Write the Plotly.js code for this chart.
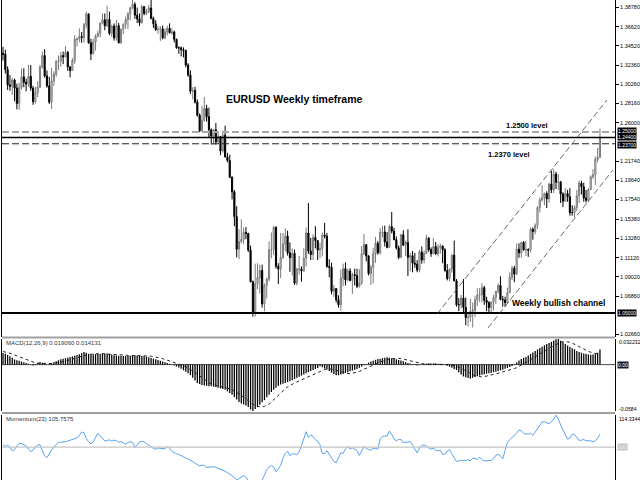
<!DOCTYPE html>
<html><head><meta charset="utf-8">
<script src="https://cdn.plot.ly/plotly-3.0.1.min.js"></script>
<style>html,body{margin:0;padding:0;background:#fff}#chart{width:640px;height:480px}</style>
</head><body><div id="chart"></div>
<script>
// EURUSD weekly bars (Feb 2013 - Jan 2018); open of each bar = previous close
const firstOpen = 1.3370;
const high = [
1.3440,1.3410,1.3225,1.3130,1.3100,1.3090,1.3035,1.3045,1.3200,1.3205,
1.3090,1.3245,1.3240,1.3010,1.3000,1.3060,1.3240,1.3390,1.3415,1.3180,
1.3110,1.3210,1.3170,1.3295,1.3345,1.3385,1.3390,1.3450,1.3395,1.3225,
1.3315,1.3570,1.3545,1.3645,1.3605,1.3705,1.3830,1.3810,1.3530,1.3530,
1.3580,1.3620,1.3710,1.3810,1.3810,1.3895,1.3830,1.3685,1.3700,1.3740,
1.3705,1.3645,1.3700,1.3775,1.3825,1.3880,1.3965,1.3935,1.3875,1.3810,
1.3905,1.3890,1.3860,1.3905,1.3995,1.3775,1.3735,1.3670,1.3670,1.3675,
1.3645,1.3675,1.3700,1.3650,1.3620,1.3530,1.3445,1.3445,1.3435,1.3410,
1.3260,1.3180,1.2995,1.3000,1.2860,1.2705,1.2790,1.2885,1.2800,1.2770,
1.2540,1.2530,1.2600,1.2505,1.2455,1.2515,1.2570,1.2270,1.2250,1.2010,
1.1860,1.1680,1.1425,1.1535,1.1445,1.1450,1.1385,1.1245,1.0860,1.1045,
1.1050,1.1035,1.1035,1.0825,1.0890,1.1290,1.1390,1.1465,1.1460,1.1050,
1.1385,1.1385,1.1435,1.1410,1.1280,1.1215,1.1200,1.1000,1.1130,1.1015,
1.1215,1.1445,1.1715,1.1330,1.1370,1.1460,1.1305,1.1275,1.1390,1.1495,
1.1385,1.1095,1.1055,1.0810,1.0775,1.0695,1.0980,1.1045,1.1060,1.0990,
1.0995,1.0945,1.0990,1.0990,1.0985,1.1240,1.1375,1.1260,1.1140,1.1030,
1.1220,1.1340,1.1295,1.1440,1.1465,1.1465,1.1395,1.1475,1.1615,1.1440,
1.1345,1.1245,1.1375,1.1415,1.1300,1.1425,1.1165,1.1185,1.1165,1.1085,
1.1200,1.1235,1.1190,1.1365,1.1340,1.1225,1.1330,1.1285,1.1260,1.1265,
1.1245,1.1215,1.1040,1.0990,1.1145,1.1300,1.0875,1.0665,1.0700,1.0875,
1.0670,1.0490,1.0655,1.0615,1.0685,1.0775,1.0775,1.0830,1.0800,1.0680,
1.0630,1.0630,1.0700,1.0745,1.0830,1.0905,1.0690,1.0680,1.0780,1.0950,
1.1020,1.1020,1.1265,1.1270,1.1285,1.1295,1.1295,1.1215,1.1445,1.1445,
1.1490,1.1680,1.1775,1.1910,1.1830,1.1845,1.1940,1.2070,1.2090,1.2060,
1.2035,1.1955,1.1835,1.1880,1.1860,1.1880,1.1690,1.1690,1.1860,1.1965,
1.1960,1.1940,1.1860,1.1880,1.2020,1.2090,1.2230,1.2325,1.2535];
const low = [
1.3290,1.3145,1.2965,1.2955,1.2910,1.2840,1.2750,1.2745,1.2970,1.2995,
1.2950,1.3000,1.2955,1.2800,1.2815,1.2885,1.2985,1.3200,1.3100,1.2990,
1.2810,1.2755,1.3010,1.3110,1.3185,1.3220,1.3250,1.3325,1.3175,1.3105,
1.3175,1.3255,1.3445,1.3490,1.3485,1.3490,1.3645,1.3475,1.3295,1.3355,
1.3400,1.3545,1.3545,1.3690,1.3625,1.3660,1.3570,1.3550,1.3510,1.3510,
1.3480,1.3475,1.3580,1.3640,1.3640,1.3735,1.3855,1.3750,1.3705,1.3670,
1.3700,1.3790,1.3790,1.3815,1.3745,1.3650,1.3615,1.3585,1.3505,1.3525,
1.3525,1.3565,1.3590,1.3575,1.3490,1.3420,1.3365,1.3335,1.3325,1.3215,
1.3110,1.2920,1.2860,1.2815,1.2670,1.2500,1.2500,1.2615,1.2615,1.2440,
1.2360,1.2360,1.2360,1.2375,1.2245,1.2270,1.2220,1.2165,1.1990,1.1755,
1.1460,1.1115,1.1095,1.1270,1.1260,1.1315,1.1175,1.0840,1.0460,1.0460,
1.0765,1.0715,1.0560,1.0520,1.0660,1.0850,1.1105,1.1140,1.0990,1.0820,
1.0885,1.1100,1.1185,1.1135,1.0955,1.0915,1.0810,1.0805,1.0925,1.0845,
1.0955,1.1015,1.1155,1.1085,1.1085,1.1215,1.1085,1.1105,1.1125,1.1325,
1.1000,1.0895,1.0705,1.0675,1.0615,1.0560,1.0525,1.0795,1.0805,1.0850,
1.0850,1.0710,1.0805,1.0775,1.0780,1.0810,1.1140,1.1070,1.0915,1.0810,
1.0825,1.1055,1.1145,1.1145,1.1335,1.1235,1.1215,1.1220,1.1380,1.1305,
1.1200,1.1095,1.1105,1.1240,1.1130,1.0910,1.0960,1.0950,1.1000,1.0950,
1.0950,1.1045,1.1050,1.1150,1.1175,1.1120,1.1150,1.1140,1.1125,1.1155,
1.1050,1.0955,1.0860,1.0850,1.0945,1.0850,1.0570,1.0520,1.0550,1.0505,
1.0365,1.0350,1.0400,1.0340,1.0455,1.0580,1.0620,1.0620,1.0590,1.0520,
1.0495,1.0495,1.0525,1.0600,1.0715,1.0640,1.0570,1.0570,1.0605,1.0720,
1.0865,1.0840,1.0920,1.1110,1.1110,1.1190,1.1130,1.1120,1.1170,1.1310,
1.1370,1.1430,1.1610,1.1730,1.1690,1.1660,1.1720,1.1825,1.1825,1.1870,
1.1860,1.1715,1.1670,1.1730,1.1730,1.1575,1.1575,1.1555,1.1625,1.1715,
1.1810,1.1730,1.1720,1.1725,1.1860,1.1980,1.1915,1.2165,1.2215];
const close = [
1.3360,1.3190,1.3020,1.3005,1.3075,1.2985,1.2815,1.2995,1.3110,1.3050,
1.3030,1.3115,1.2985,1.2835,1.2935,1.2995,1.3220,1.3345,1.3120,1.3010,
1.2830,1.3065,1.3140,1.3280,1.3285,1.3345,1.3330,1.3380,1.3220,1.3180,
1.3290,1.3525,1.3525,1.3555,1.3545,1.3685,1.3805,1.3485,1.3365,1.3495,
1.3560,1.3590,1.3705,1.3740,1.3675,1.3745,1.3590,1.3670,1.3540,1.3675,
1.3485,1.3635,1.3690,1.3740,1.3805,1.3875,1.3910,1.3790,1.3750,1.3705,
1.3885,1.3810,1.3830,1.3870,1.3755,1.3695,1.3630,1.3635,1.3640,1.3540,
1.3605,1.3645,1.3595,1.3605,1.3525,1.3430,1.3430,1.3410,1.3400,1.3240,
1.3130,1.2950,1.2960,1.2830,1.2685,1.2515,1.2630,1.2760,1.2670,1.2525,
1.2455,1.2525,1.2390,1.2450,1.2290,1.2465,1.2225,1.2185,1.2000,1.1840,
1.1565,1.1205,1.1290,1.1315,1.1390,1.1380,1.1195,1.0845,1.0495,1.0825,
1.0890,1.0970,1.0600,1.0805,1.0875,1.1200,1.1200,1.1445,1.1015,1.0985,
1.1110,1.1265,1.1350,1.1165,1.1110,1.1160,1.0830,1.0985,1.0985,1.0965,
1.1105,1.1385,1.1185,1.1145,1.1335,1.1300,1.1195,1.1210,1.1360,1.1350,
1.1015,1.1005,1.0740,1.0770,1.0645,1.0590,1.0885,1.0990,1.0865,1.0965,
1.0860,1.0925,1.0915,1.0795,1.0830,1.1155,1.1255,1.1130,1.0935,1.1005,
1.1155,1.1270,1.1165,1.1390,1.1395,1.1285,1.1225,1.1455,1.1405,1.1310,
1.1220,1.1115,1.1365,1.1250,1.1280,1.1115,1.1135,1.1050,1.1040,1.0975,
1.1175,1.1085,1.1160,1.1325,1.1200,1.1155,1.1235,1.1155,1.1225,1.1240,
1.1200,1.0970,1.0880,1.0985,1.1140,1.0855,1.0590,1.0590,1.0665,1.0560,
1.0450,1.0455,1.0520,1.0530,1.0645,1.0700,1.0700,1.0780,1.0640,1.0615,
1.0560,1.0620,1.0670,1.0740,1.0805,1.0650,1.0645,1.0615,1.0725,1.0895,
1.0995,1.0930,1.1205,1.1165,1.1280,1.1195,1.1200,1.1195,1.1425,1.1400,
1.1470,1.1665,1.1750,1.1775,1.1820,1.1760,1.1925,1.1860,1.2035,1.1945,
1.1950,1.1815,1.1735,1.1820,1.1785,1.1610,1.1610,1.1665,1.1795,1.1935,
1.1895,1.1770,1.1745,1.1865,1.2005,1.2030,1.2200,1.2220,1.2440];

// MACD(12,26,9) main values (histogram) and signal (dotted)
const macd = [
0.0147,0.0137,0.0122,0.0106,0.0086,0.0065,0.0056,0.0047,0.0038,0.0030,
0.0020,0.0010,0.0000,-0.0010,0.0005,0.0020,0.0034,0.0022,0.0011,0.0000,
0.0010,0.0019,0.0030,0.0043,0.0055,0.0066,0.0073,0.0080,0.0087,0.0095,
0.0103,0.0112,0.0121,0.0131,0.0145,0.0160,0.0150,0.0135,0.0127,0.0129,
0.0130,0.0132,0.0134,0.0137,0.0139,0.0140,0.0133,0.0126,0.0119,0.0115,
0.0112,0.0110,0.0107,0.0106,0.0109,0.0113,0.0115,0.0117,0.0114,0.0112,
0.0109,0.0106,0.0100,0.0092,0.0084,0.0076,0.0067,0.0058,0.0049,0.0040,
0.0030,0.0020,0.0010,0.0000,-0.0011,-0.0024,-0.0036,-0.0052,-0.0071,-0.0091,
-0.0110,-0.0132,-0.0166,-0.0200,-0.0232,-0.0245,-0.0256,-0.0263,-0.0267,-0.0271,
-0.0274,-0.0278,-0.0281,-0.0292,-0.0300,-0.0308,-0.0316,-0.0337,-0.0358,-0.0379,
-0.0410,-0.0440,-0.0470,-0.0490,-0.0502,-0.0515,-0.0535,-0.0565,-0.0584,-0.0560,
-0.0535,-0.0505,-0.0475,-0.0447,-0.0412,-0.0380,-0.0345,-0.0318,-0.0290,-0.0265,
-0.0250,-0.0240,-0.0230,-0.0220,-0.0210,-0.0196,-0.0181,-0.0167,-0.0152,-0.0138,
-0.0123,-0.0109,-0.0094,-0.0080,-0.0068,-0.0056,-0.0044,-0.0020,-0.0034,-0.0049,
-0.0063,-0.0080,-0.0100,-0.0119,-0.0134,-0.0134,-0.0125,-0.0117,-0.0106,-0.0095,
-0.0084,-0.0074,-0.0065,-0.0055,-0.0040,-0.0023,-0.0007,0.0009,0.0025,0.0039,
0.0049,0.0060,0.0069,0.0075,0.0081,0.0087,0.0092,0.0086,0.0080,0.0073,
0.0066,0.0059,0.0051,0.0041,0.0031,0.0021,0.0013,0.0006,-0.0002,-0.0010,
-0.0004,0.0003,0.0009,0.0013,0.0013,0.0013,0.0013,0.0013,0.0011,0.0008,
0.0004,0.0000,-0.0014,-0.0028,-0.0041,-0.0055,-0.0068,-0.0095,-0.0124,-0.0149,
-0.0160,-0.0170,-0.0176,-0.0165,-0.0155,-0.0147,-0.0138,-0.0129,-0.0120,-0.0114,
-0.0108,-0.0102,-0.0096,-0.0089,-0.0081,-0.0072,-0.0064,-0.0053,-0.0042,-0.0031,
-0.0017,-0.0004,0.0025,0.0052,0.0071,0.0085,0.0097,0.0116,0.0135,0.0153,
0.0172,0.0190,0.0209,0.0224,0.0242,0.0258,0.0272,0.0287,0.0302,0.0318,
0.0322,0.0300,0.0280,0.0260,0.0240,0.0221,0.0207,0.0192,0.0172,0.0160,
0.0150,0.0140,0.0132,0.0127,0.0125,0.0128,0.0138,0.0150,0.0191];
const signal = [
0.0165,0.0160,0.0152,0.0143,0.0132,0.0120,0.0108,0.0098,0.0089,0.0076,
0.0063,0.0051,0.0039,0.0028,0.0022,0.0018,0.0016,0.0015,0.0012,0.0010,
0.0010,0.0012,0.0017,0.0021,0.0025,0.0028,0.0034,0.0042,0.0051,0.0061,
0.0070,0.0079,0.0088,0.0096,0.0105,0.0115,0.0123,0.0128,0.0132,0.0134,
0.0136,0.0138,0.0138,0.0137,0.0135,0.0134,0.0133,0.0133,0.0132,0.0131,
0.0128,0.0126,0.0122,0.0119,0.0115,0.0113,0.0112,0.0112,0.0111,0.0111,
0.0111,0.0111,0.0111,0.0109,0.0105,0.0101,0.0096,0.0089,0.0082,0.0075,
0.0066,0.0057,0.0048,0.0039,0.0029,0.0019,0.0009,-0.0003,-0.0015,-0.0028,
-0.0043,-0.0059,-0.0077,-0.0098,-0.0121,-0.0144,-0.0167,-0.0188,-0.0208,-0.0226,
-0.0242,-0.0254,-0.0263,-0.0270,-0.0276,-0.0282,-0.0287,-0.0295,-0.0305,-0.0317,
-0.0331,-0.0349,-0.0369,-0.0390,-0.0411,-0.0433,-0.0455,-0.0478,-0.0501,-0.0518,
-0.0528,-0.0532,-0.0531,-0.0525,-0.0513,-0.0496,-0.0471,-0.0442,-0.0412,-0.0382,
-0.0354,-0.0327,-0.0303,-0.0282,-0.0263,-0.0247,-0.0231,-0.0218,-0.0205,-0.0193,
-0.0180,-0.0166,-0.0152,-0.0138,-0.0124,-0.0110,-0.0096,-0.0081,-0.0070,-0.0062,
-0.0056,-0.0055,-0.0057,-0.0063,-0.0071,-0.0081,-0.0093,-0.0102,-0.0109,-0.0112,
-0.0113,-0.0110,-0.0104,-0.0095,-0.0085,-0.0073,-0.0061,-0.0048,-0.0035,-0.0021,
-0.0008,0.0006,0.0020,0.0033,0.0044,0.0055,0.0064,0.0071,0.0075,0.0078,
0.0079,0.0078,0.0075,0.0071,0.0064,0.0056,0.0048,0.0040,0.0032,0.0023,
0.0016,0.0011,0.0007,0.0005,0.0005,0.0005,0.0005,0.0007,0.0009,0.0011,
0.0011,0.0010,0.0007,0.0002,-0.0004,-0.0011,-0.0020,-0.0032,-0.0047,-0.0064,
-0.0082,-0.0099,-0.0115,-0.0129,-0.0140,-0.0149,-0.0154,-0.0154,-0.0151,-0.0146,
-0.0139,-0.0131,-0.0123,-0.0116,-0.0109,-0.0101,-0.0094,-0.0087,-0.0079,-0.0070,
-0.0061,-0.0050,-0.0038,-0.0023,-0.0007,0.0010,0.0026,0.0044,0.0062,0.0081,
0.0101,0.0119,0.0136,0.0153,0.0171,0.0189,0.0206,0.0223,0.0240,0.0256,
0.0270,0.0281,0.0287,0.0289,0.0287,0.0281,0.0272,0.0260,0.0244,0.0226,
0.0209,0.0194,0.0179,0.0167,0.0156,0.0147,0.0141,0.0139,0.0141];
// Momentum(23)
const momentum = [
101.0,100.3,100.9,99.9,98.3,98.8,100.4,101.7,101.6,101.0,
100.6,99.1,98.0,98.6,99.7,101.0,101.0,98.3,96.1,95.2,
97.3,98.7,99.9,101.1,102.2,102.1,102.1,102.4,102.7,103.1,
103.4,103.8,104.1,105.3,106.7,106.5,103.8,102.4,101.5,102.3,
104.5,106.2,105.1,103.8,102.7,103.0,103.2,102.7,103.1,102.9,
102.1,102.5,102.0,101.3,102.0,102.4,102.1,99.9,100.8,102.3,
102.6,102.3,101.6,100.9,99.9,99.4,99.0,99.6,99.4,99.3,
99.2,100.2,99.4,98.0,97.4,97.0,96.7,96.2,95.5,94.9,
94.6,94.2,93.5,92.8,92.1,91.5,91.9,91.7,90.8,91.0,
91.3,91.2,90.9,90.5,90.1,89.7,89.1,88.5,87.9,87.2,
86.4,85.2,85.8,86.7,87.2,86.5,85.0,82.8,81.2,80.2,
81.5,82.9,85.1,87.5,89.8,91.0,91.7,91.0,88.9,90.2,
91.8,95.0,97.1,98.2,96.1,96.9,97.0,96.5,98.0,100.6,
104.2,106.9,104.3,105.5,104.8,103.3,102.7,101.1,97.1,97.0,
98.4,96.6,94.8,93.5,92.9,95.2,97.4,97.1,99.2,100.3,
99.1,99.7,99.2,98.4,96.2,98.4,100.2,99.4,98.7,98.7,
99.4,99.3,99.1,103.6,104.8,105.0,104.9,107.2,105.7,103.6,
102.8,103.4,103.4,101.9,102.0,102.3,102.5,100.8,99.0,97.4,
99.6,100.7,101.0,100.5,99.6,99.1,99.4,98.6,98.3,98.6,
96.6,96.8,98.2,98.7,96.9,95.3,93.5,93.8,94.1,93.8,
94.2,94.3,93.8,95.0,94.9,94.4,95.5,94.3,93.8,94.0,
93.9,94.0,94.8,96.3,96.7,95.9,94.8,98.5,102.1,103.3,
104.5,105.3,106.3,107.6,107.3,106.3,105.8,105.8,106.2,105.3,
106.7,108.3,110.1,111.3,111.4,110.9,110.4,111.4,112.6,114.33,
112.6,109.9,108.0,105.4,103.5,104.1,105.8,105.7,104.2,103.0,
103.1,103.4,102.8,102.8,102.8,102.3,102.9,103.9,105.76];

const priceTicks = [1.3878,1.3662,1.3452,1.3236,1.3026,1.2816,1.2600,1.2174,1.1964,1.1754,1.1538,1.1328,1.1112,1.0902,1.0686,1.0266];
const levelResist = 1.2500, levelPrice = 1.2440, levelSupport = 1.2370, levelBase = 1.0500;
// channel endpoints [barIndex, price]
const channelUpper = [[187.6, 1.0489], [261.0, 1.2854]];
const channelLower = [[209.6, 1.0334], [263.6, 1.2080]];
const macdLabel = 'MACD(12,26,9) 0.019060 0.014131';
const momLabel = 'Momentum(23) 105.7575';
const macdMaxText = '0.032232', macdMinText = '-0.0584', momMaxText = '114.3344';

const open = close.map((c, i) => i === 0 ? firstOpen : close[i - 1]);
const idx = close.map((_, i) => i);

const W = 640, H = 480, ML = 2, MR = 25;
const PW = W - ML - MR;
const px = v => (v - ML) / PW;
const py = v => 1 - v / H;
const FONT = 'Liberation Sans, Arial, sans-serif';

const traces = [
  {type: 'candlestick', x: idx, open: open, high: high, low: low, close: close,
   xaxis: 'x', yaxis: 'y', whiskerwidth: 0, hoverinfo: 'skip',
   increasing: {line: {color: '#7a7a7a', width: 1}, fillcolor: '#e8e8e8'},
   decreasing: {line: {color: '#000', width: 1}, fillcolor: '#000'}},
  {type: 'bar', x: idx, y: macd, xaxis: 'x', yaxis: 'y2', width: 0.55,
   marker: {color: '#000', line: {width: 0}}, hoverinfo: 'skip'},
  {type: 'scatter', mode: 'lines', x: idx, y: signal, xaxis: 'x', yaxis: 'y2',
   line: {color: '#222', width: 1, dash: 'dot'}, hoverinfo: 'skip'},
  {type: 'scatter', mode: 'lines', x: idx, y: momentum, xaxis: 'x', yaxis: 'y3',
   line: {color: '#58a2f0', width: 1}, hoverinfo: 'skip'}
];

function hline(yref, y, color, width, dash) {
  return {type: 'line', xref: 'paper', x0: 0, x1: 1, yref: yref, y0: y, y1: y,
          line: {color: color, width: width, dash: dash || 'solid'}};
}
const shapes = [
  hline('y', levelResist, '#a8a8a8', 2, '7px,3px'),
  hline('y', levelPrice, '#000', 1.6),
  hline('y', levelSupport, '#222', 1, '7px,3px'),
  hline('y', levelBase, '#000', 2),
  {type: 'line', xref: 'x', yref: 'y', x0: channelUpper[0][0], y0: channelUpper[0][1], x1: channelUpper[1][0], y1: channelUpper[1][1],
   line: {color: '#444', width: 0.8, dash: '6px,3px'}},
  {type: 'line', xref: 'x', yref: 'y', x0: channelLower[0][0], y0: channelLower[0][1], x1: channelLower[1][0], y1: channelLower[1][1],
   line: {color: '#444', width: 0.8, dash: '6px,3px'}},
  hline('y2', 0, '#000', 0.7),
  hline('y3', 100, '#c4c4c4', 1.3),
  {type: 'line', xref: 'paper', yref: 'paper', x0: 0, x1: 1, y0: py(337.5), y1: py(337.5), line: {color: '#a0a0a0', width: 2}},
  {type: 'line', xref: 'paper', yref: 'paper', x0: 0, x1: 1, y0: py(413), y1: py(413), line: {color: '#a0a0a0', width: 2}}
];

function txt(text, xp, yp, size, opts) {
  return Object.assign({text: text, xref: 'paper', yref: 'paper', x: px(xp), y: py(yp), showarrow: false,
    xanchor: 'center', yanchor: 'middle', font: {family: FONT, size: size, color: '#000'}}, opts || {});
}
function box(text, yref, y, bg, fg, yshift) {
  return {text: text, xref: 'paper', yref: yref, x: 1, y: y, xanchor: 'left', yanchor: 'middle', xshift: 2, yshift: yshift || 0,
    showarrow: false, bgcolor: bg, borderpad: 0, font: {family: FONT, size: 5, color: fg}};
}
const annotations = [
  txt('<b>EURUSD Weekly timeframe</b>', 294.5, 99, 10.5),
  txt('<b>1.2500 level</b>', 527, 125, 7.5),
  txt('<b>1.2370 level</b>', 509, 154, 7.5),
  txt('<b>Weekly bullish channel</b>', 558, 303, 8.5),
  txt(macdLabel, 4, 343, 6, {xanchor: 'left', font: {family: FONT, size: 6, color: '#333'}}),
  txt(momLabel, 4, 418.5, 6, {xanchor: 'left', font: {family: FONT, size: 6, color: '#333'}}),
  box(levelResist.toFixed(5), 'y', levelResist, '#000', '#fff', 1),
  box(levelPrice.toFixed(5), 'y', levelPrice, '#000', '#fff', 0),
  box(levelSupport.toFixed(5), 'y', levelSupport, '#000', '#fff', -1),
  box(levelBase.toFixed(5), 'y', levelBase, '#000', '#fff', 0),
  txt(macdMaxText, 617, 342, 5.2, {xanchor: 'left'}),
  txt(macdMinText, 617, 409, 5.2, {xanchor: 'left'}),
  box('0.00', 'y2', 0, '#1a1a2e', '#fff'),
  txt(momMaxText, 617, 418.5, 5.2, {xanchor: 'left'}),
  box('100', 'y3', 100, '#c4c4c4', '#f4f4f4')
];

const axBase = {side: 'right', anchor: 'x', showgrid: false, zeroline: false, showline: true,
  linecolor: '#000', linewidth: 1, mirror: true, fixedrange: true};
const layout = {
  width: W, height: H, margin: {l: ML, r: MR, t: 0, b: 0},
  paper_bgcolor: '#fff', plot_bgcolor: '#fff', showlegend: false,
  font: {family: FONT, size: 6, color: '#000'},
  xaxis: {range: [-0.43, 264.5], visible: false, rangeslider: {visible: false}, fixedrange: true},
  yaxis: Object.assign({}, axBase, {domain: [py(337), 1], range: [1.02348, 1.39586],
    tickmode: 'array', tickvals: priceTicks, ticktext: priceTicks.map(v => v.toFixed(5)),
    ticks: 'outside', ticklen: 3, tickwidth: 1, tickcolor: '#000', tickfont: {family: FONT, size: 5.5, color: '#000'}}),
  yaxis2: Object.assign({}, axBase, {domain: [py(411), py(339)], range: [-0.0584, 0.032232], showticklabels: false, ticks: ''}),
  yaxis3: Object.assign({}, axBase, {domain: [0, py(415)], range: [85.2, 114.4], showticklabels: false, ticks: ''}),
  shapes: shapes, annotations: annotations
};
Plotly.newPlot('chart', traces, layout, {staticPlot: true, displayModeBar: false});
</script></body></html>
